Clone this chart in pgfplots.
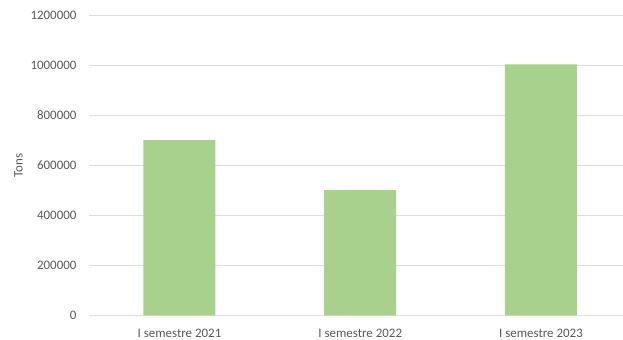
\documentclass[border=0pt]{standalone}
\usepackage{fontspec}
\setmainfont{Carlito}
\usepackage{pgfplots}
\pgfplotsset{compat=1.18}
\definecolor{bargreen}{HTML}{A9D18E}
\definecolor{gridgray}{HTML}{DEDEDE}
\definecolor{labelgray}{HTML}{595959}
\begin{document}
\begin{tikzpicture}
\useasboundingbox (0,0) rectangle (623bp,340bp);
\begin{axis}[
  at={(89.4bp,24.7bp)}, anchor=south west,
  scale only axis,
  width=533.6bp, height=300bp,
  xmin=-0.4985, xmax=2.454,
  ymin=0, ymax=1200000,
  ytick={0,200000,...,1200000},
  xtick={0,1,2},
  xticklabels={I semestre 2021, I semestre 2022, I semestre 2023},
  scaled y ticks=false,
  /pgf/number format/assume math mode=true,
  /pgf/number format/fixed,
  /pgf/number format/1000 sep={},
  axis x line*=bottom,
  axis y line*=left,
  x axis line style={draw=gridgray, line width=0.8pt, -},
  y axis line style={draw=none},
  major tick length=0pt,
  ymajorgrids,
  grid style={draw=gridgray, line width=0.8pt},
  tick label style={font=\fontsize{13}{15}\selectfont, text=labelgray, inner sep=0pt},
  yticklabel style={anchor=east, xshift=-12.7bp},
  xticklabel style={anchor=north, yshift=-14bp},
  ylabel={Tons},
  ylabel style={font=\fontsize{13}{15}\selectfont, text=labelgray, at={(rel axis cs:0,0.5)}, anchor=center, yshift=71bp},
  ybar, bar width=72bp,
]
\addplot[fill=bargreen, draw=none] coordinates {(0,701000) (1,501000) (2,1004000)};
\end{axis}
\end{tikzpicture}
\end{document}
